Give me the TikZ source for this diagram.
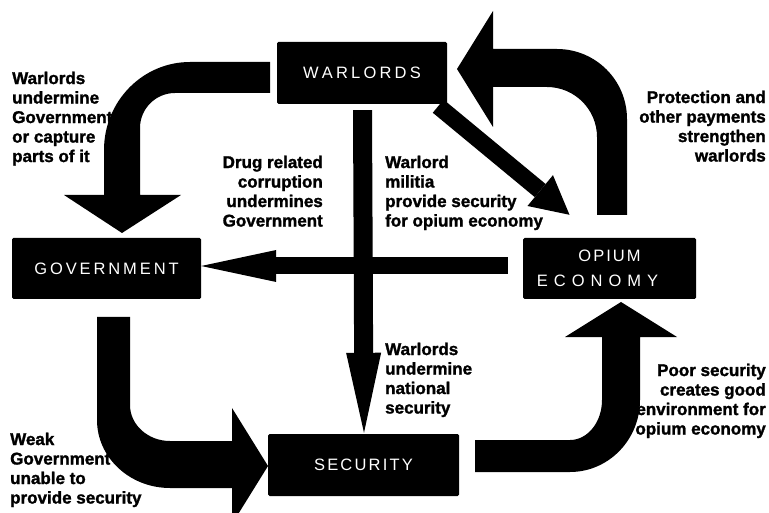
\documentclass[tikz,border=0pt]{standalone}
\usepackage{fontspec}
\setmainfont{Liberation Sans}
\newfontfamily\heavyfont{Liberation Sans Bold}[FakeBold=1.5]
\usetikzlibrary{arrows.meta,calc}
\makeatletter
\newcommand\lsp[2]{\def\lsp@k{#1}\@tfor\lsp@c:=#2\do{\lsp@c\kern\lsp@k}\kern-#1\relax}
\makeatother
\begin{document}
\begin{tikzpicture}[x=1pt,y=-1pt,
  box/.style={fill=black, text=white, inner sep=0pt, rounded corners=1.5pt,
    font=\fontsize{16.5}{25}\selectfont, align=center},
  lbl/.style={font=\heavyfont\fontsize{17}{19.5}\selectfont, inner sep=0pt},
  blockarrow/.style={fill=black},
  thinarrow/.style={draw=black, line width=#1}
]
\useasboundingbox (0,0) rectangle (769,513);
\fill[white] (0,0) rectangle (769,513);
\clip (0,0) rectangle (769,513);

% boxes
\node[box, minimum width=170pt, minimum height=62pt] (wl) at (362,73) {\lsp{3.2pt}{WARLORDS}};
\node[box, minimum width=189pt, minimum height=61pt] (gov) at (106.5,268.5) {\lsp{2.9pt}{GOVERNMENT}};
\node[box, minimum width=173pt, minimum height=61pt] (op) at (609.5,268.5) {\lsp{2pt}{OPIUM}\\\lsp{6pt}{ECONOMY}\hspace*{24pt}};
\node[box, minimum width=191pt, minimum height=62pt] (sec) at (363.5,465) {\lsp{2.2pt}{SECURITY}};

% straight arrows
\draw[thinarrow=19pt, -{Triangle[length=80pt,width=35pt,line width=0pt]}]
  ($(wl.south)+(0.5,6)$) -- ($(sec.north)+(0.5,-1)$);
\coordinate (hs) at ($(op.west)+(-15,-2.5)$);
\draw[thinarrow=17pt, -{Triangle[length=75pt,width=32pt,line width=0pt]}]
  (hs) -- (hs -| gov.east);
\draw[thinarrow=17pt, -{Triangle[length=38pt,width=40pt,line width=0pt]}]
  ($(wl.south east)+(-9,2)$) -- ($(op.north)+(-40,-23)$);

% curved block arrows
% Warlords -> Government
\fill[blockarrow] (270,62) -- (190,62) .. controls (142.5,62) and (104,101.4) .. (104,150)
  -- (104,195) -- (64,195) -- (122,233) -- (181,195) -- (140,195) -- (140,128)
  .. controls (140,108.7) and (155.7,93) .. (175,93) -- (270,93) -- cycle;
% Opium -> Warlords
\fill[blockarrow] (597,215) -- (597,137) .. controls (597,109.4) and (574.6,87) .. (547,87)
  -- (493,87) -- (493,127) -- (457,69) -- (493,11) -- (493,49) -- (557,49)
  .. controls (595.7,49) and (627,80.3) .. (627,119) -- (627,215) -- cycle;
% Government -> Security
\fill[blockarrow] (97,317) -- (97,420) .. controls (97,457.5) and (129.7,488) .. (170,488)
  -- (232,488) -- (232,524) -- (268,466) -- (232,408) -- (232,441) -- (170,441)
  .. controls (148,441) and (130,424.9) .. (130,405) -- (130,317) -- cycle;
% Security -> Opium
\fill[blockarrow] (475,440) -- (570,440) .. controls (587.7,440) and (602,422.1) .. (602,400)
  -- (602,337) -- (565,337) -- (621,302) -- (677,337) -- (640,337) -- (640,400)
  .. controls (640,439.7) and (608.6,472) .. (570,472) -- (475,472) -- cycle;

% labels
\node[lbl, anchor=north west, align=left] (t1) at (12,71.5) {Warlords\\undermine\\Government\\or capture\\parts of it};
\node[lbl, anchor=north east, align=right] (t2) at (323,155.5) {Drug related\\corruption\\undermines\\Government};
\node[lbl, anchor=north west, align=left] (t3) at (385,155.5) {Warlord\\militia\\provide security\\for opium economy};
\node[lbl, anchor=north east, align=right] (t4) at (766,90.5) {Protection and\\other payments\\strengthen\\warlords};
\node[lbl, anchor=north west, align=left] (t5) at (385,342.5) {Warlords\\undermine\\national\\security};
\node[lbl, anchor=north east, align=right] (t6) at (766,363.5) {Poor security\\creates good\\environment for\\opium economy};
\node[lbl, anchor=north west, align=left] (t7) at (10,432.5) {Weak\\Government\\unable to\\provide security};
\end{tikzpicture}
\end{document}
